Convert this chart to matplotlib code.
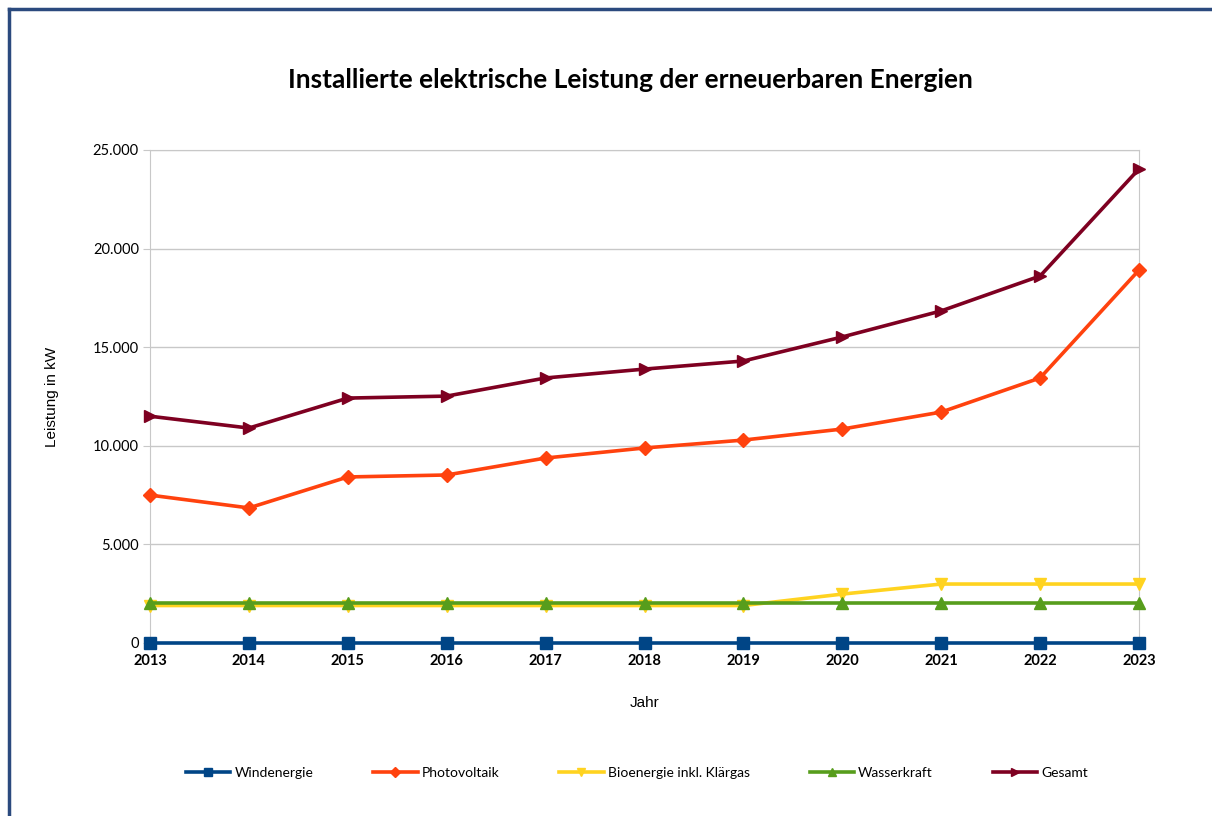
import matplotlib
matplotlib.use("Agg")
import matplotlib.pyplot as plt
from matplotlib.lines import Line2D
from matplotlib.ticker import FuncFormatter

jahre = [2013, 2014, 2015, 2016, 2017, 2018, 2019, 2020, 2021, 2022, 2023]
windenergie = [0, 0, 0, 0, 0, 0, 0, 0, 0, 0, 0]
photovoltaik = [7500, 6850, 8420, 8520, 9380, 9890, 10290, 10850, 11710, 13440, 18910]
bioenergie = [1900, 1900, 1900, 1900, 1900, 1900, 1900, 2480, 2990, 2990, 2990]
wasserkraft = [2050, 2050, 2050, 2050, 2050, 2050, 2050, 2050, 2050, 2050, 2050]
gesamt = [11500, 10900, 12420, 12520, 13440, 13890, 14300, 15520, 16840, 18610, 24040]

serien = [
    ("Windenergie", windenergie, "#004586", "s"),
    ("Photovoltaik", photovoltaik, "#ff420e", "D"),
    ("Bioenergie inkl. Klärgas", bioenergie, "#ffd320", "v"),
    ("Wasserkraft", wasserkraft, "#579d1c", "^"),
    ("Gesamt", gesamt, "#7e0021", ">"),
]

fig = plt.figure(figsize=(12.12, 8.16), dpi=100)
ax = fig.add_axes([150/1212, 1-643/816, (1139-150)/1212, (643-150)/816])

for name, vals, col, mk in serien:
    ms = 7 if mk == "D" else 9
    ax.plot(jahre, vals, color=col, lw=2.6, marker=mk, ms=ms,
            label=name, clip_on=False, zorder=3)

ax.set_xlim(2013, 2023)
ax.set_ylim(0, 25000)
ax.set_yticks(range(0, 25001, 5000))
ax.set_xticks(jahre)
ax.yaxis.set_major_formatter(FuncFormatter(lambda v, p: f"{int(v):,}".replace(",", ".")))
ax.grid(axis="y", color="#c8c8c8", lw=1)
ax.set_axisbelow(True)
for s in ["left", "right", "top"]:
    ax.spines[s].set_color("#c8c8c8")
ax.spines["bottom"].set_visible(False)
ax.tick_params(axis="y", length=5, color="#c8c8c8", labelsize=10.5, pad=3)
ax.tick_params(axis="x", length=0, labelsize=10.5, pad=8)
for t in ax.get_yticklabels():
    t.set_fontfamily("Lato")
for t in ax.get_xticklabels():
    t.set_fontfamily("Lato")
    t.set_fontweight("bold")

ax.set_ylabel("Leistung in kW", fontsize=11, fontfamily="Liberation Sans", labelpad=24)
ax.set_xlabel("Jahr", fontsize=11, fontfamily="Liberation Sans", labelpad=20)

fig.text(630/1212, 1-80/816, "Installierte elektrische Leistung der erneuerbaren Energien",
         ha="center", va="center", fontsize=19, fontweight="bold", fontfamily="Lato")

fig.legend(loc="center", bbox_to_anchor=(637/1212, 1-773/816), ncol=5, frameon=False,
           prop={"family": "Lato", "size": 10}, columnspacing=4.3, handlelength=3.2,
           handletextpad=0.3, markerscale=0.7)

# outer frame (top and left edges visible)
fig.add_artist(Line2D([9/1212, 1], [1-9/816, 1-9/816], transform=fig.transFigure,
                      color="#2b4a7e", lw=2.5))
fig.add_artist(Line2D([9/1212, 9/1212], [0, 1-9/816], transform=fig.transFigure,
                      color="#2b4a7e", lw=2.5))

fig.savefig("out.png", dpi=100, facecolor="white")
